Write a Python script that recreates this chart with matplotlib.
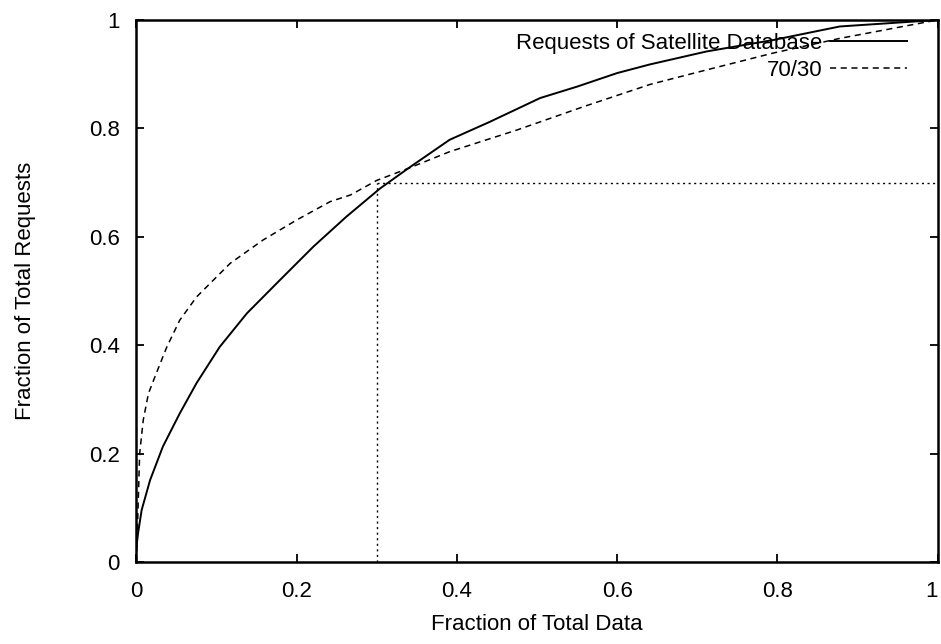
import matplotlib.pyplot as plt
from matplotlib.ticker import FixedLocator

# data
sat_x = [0.0, 0.002, 0.0065, 0.017, 0.033, 0.054, 0.075, 0.104, 0.138, 0.179, 0.221, 0.262,
         0.304, 0.339, 0.391, 0.441, 0.504, 0.550, 0.600, 0.641, 0.712, 0.795, 0.878, 1.0]
sat_y = [0.028, 0.053, 0.096, 0.151, 0.213, 0.274, 0.330, 0.397, 0.459, 0.520, 0.582, 0.637,
         0.689, 0.726, 0.779, 0.812, 0.856, 0.877, 0.902, 0.918, 0.942, 0.963, 0.988, 1.0]

ref_x = [0.0, 0.004, 0.0085, 0.015, 0.025, 0.038, 0.054, 0.075, 0.117, 0.158, 0.200,
         0.242, 0.267, 0.300, 0.339, 0.391, 0.475, 0.558, 0.641, 0.712, 0.795, 0.878, 1.0]
ref_y = [0.0, 0.200, 0.262, 0.311, 0.349, 0.397, 0.446, 0.489, 0.551, 0.594, 0.631,
         0.665, 0.677, 0.704, 0.726, 0.757, 0.797, 0.840, 0.881, 0.908, 0.939, 0.966, 1.0]

cut_x = 0.3
cut_y = 0.7

ticks = [0, 0.2, 0.4, 0.6, 0.8, 1]
tick_labels = ['0', '0.2', '0.4', '0.6', '0.8', '1']

FS = 16
plt.rcParams['font.family'] = ['Liberation Sans', 'DejaVu Sans']

fig = plt.figure(figsize=(9.41, 6.44), dpi=100)
ax = fig.add_axes([0.145, 0.1273, 0.8513, 0.8417])

ax.plot(sat_x, sat_y, color='black', lw=1.4, label='Requests of Satellite Database')
ax.plot(ref_x, ref_y, color='black', lw=1.1, dashes=(4, 3), label='70/30')
ax.plot([cut_x, 1], [cut_y, cut_y], color='black', lw=1.0, dashes=(1.5, 2.5))
ax.plot([cut_x, cut_x], [0, cut_y], color='black', lw=1.0, dashes=(1.5, 2.5))

ax.set_xlim(0, 1)
ax.set_ylim(0, 1)
ax.xaxis.set_major_locator(FixedLocator(ticks))
ax.yaxis.set_major_locator(FixedLocator(ticks))
ax.set_xticklabels(tick_labels)
ax.set_yticklabels(tick_labels)
ax.tick_params(direction='in', length=6, width=1.3, top=True, right=True,
               labelsize=FS)
ax.tick_params(axis='x', pad=14)
ax.tick_params(axis='y', pad=12)
ax.get_xticklabels()[-1].set_horizontalalignment('right')
for s in ax.spines.values():
    s.set_linewidth(1.8)

ax.set_xlabel('Fraction of Total Data', fontsize=FS, labelpad=8)
ax.set_ylabel('Fraction of Total Requests', fontsize=FS, labelpad=38)

ax.legend(loc='upper right', bbox_to_anchor=(0.962, 0.976), frameon=False,
          markerfirst=False, fontsize=FS, handlelength=3.45, handletextpad=0.36,
          labelspacing=0.25, borderpad=0, borderaxespad=0)

fig.savefig('out.png', dpi=100)
